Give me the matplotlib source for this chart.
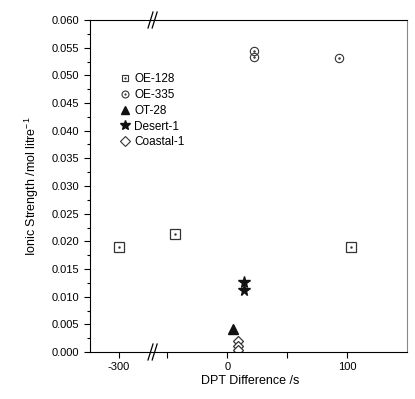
import numpy as np
import matplotlib
matplotlib.use('Agg')
import matplotlib.pyplot as plt
from matplotlib.legend_handler import HandlerTuple
from matplotlib.lines import Line2D

plt.rcParams['font.family'] = ['Liberation Sans', 'DejaVu Sans']
plt.rcParams['axes.unicode_minus'] = False
plt.rcParams['mathtext.default'] = 'regular'

# data
oe128_x = [-300, -44, 103]
oe128_y = [0.0190, 0.0213, 0.0190]
oe335_x = [22, 22, 93]
oe335_y = [0.0544, 0.0534, 0.0532]
ot28_x = [5]
ot28_y = [0.0041]
desert_x = [14, 14]
desert_y = [0.0127, 0.0112]
coastal_x = [9, 9, 9]
coastal_y = [0.0020, 0.0010, 0.0004]

ec = '#333333'
fig = plt.figure(figsize=(4.15, 3.99), dpi=100)
L, R, B, T = 90/415, 407/415, 1-352/399, 1-20/399
brk = 153/415
axL = fig.add_axes([L, B, brk-L, T-B])
axR = fig.add_axes([brk, B, R-brk, T-B], sharey=axL)

for ax in (axL, axR):
    ax.plot(oe128_x, oe128_y, ls='none', marker='s', ms=7, mfc='none', mec=ec, mew=0.9)
    ax.plot(oe128_x, oe128_y, ls='none', marker='.', ms=1.5, color=ec)
    ax.plot(oe335_x, oe335_y, ls='none', marker='o', ms=6, mfc='none', mec=ec, mew=0.8)
    ax.plot(oe335_x, oe335_y, ls='none', marker='.', ms=1.5, color=ec)
    ax.plot(ot28_x, ot28_y, ls='none', marker='^', ms=7.5, color='#111111')
    ax.plot(desert_x, desert_y, ls='none', marker='*', ms=8.5, color='#111111')
    ax.plot(coastal_x, coastal_y, ls='none', marker='D', ms=5.5, mfc='white', mec=ec, mew=0.9)
    ax.set_ylim(0, 0.060)
    ax.tick_params(axis='both', labelsize=8, direction='out', length=4, width=0.8)
    ax.tick_params(which='minor', direction='out', length=2.5, width=0.8)

axL.set_xlim(-324, -272)
axR.set_xlim(-62, 150)
axL.set_xticks([-300])
axR.set_xticks([0, 100])
axR.set_xticks([-50, 50], minor=True)
axR.tick_params(which='minor', length=4)
axL.set_yticks(np.arange(0, 0.0601, 0.005))
axL.set_yticks(np.arange(0, 0.0601, 0.0025), minor=True)
axL.set_yticklabels(['%.3f' % v for v in np.arange(0, 0.0601, 0.005)])
axL.spines['right'].set_visible(False)
axR.spines['left'].set_visible(False)
axR.spines['right'].set_color('#888888')
axR.tick_params(axis='y', which='both', left=False, labelleft=False)

# break marks
for yb in (0, 1):
    for dx in (-0.006, 0.004):
        fig.add_artist(Line2D([brk+dx-0.006, brk+dx+0.006],
                              [B+(T-B)*yb-0.02, B+(T-B)*yb+0.02],
                              color='black', lw=0.9, transform=fig.transFigure))

fig.text(32/415, (B+T)/2, 'Ionic Strength /mol litre$^{-1}$', rotation=90,
         ha='center', va='center', fontsize=9)
fig.text(250/415, 1-381/399, 'DPT Difference /s', ha='center', va='center', fontsize=9)

h1 = (Line2D([], [], ls='none', marker='s', ms=5, mfc='none', mec=ec, mew=0.8),
      Line2D([], [], ls='none', marker='.', ms=1.2, color=ec))
h2 = (Line2D([], [], ls='none', marker='o', ms=5, mfc='none', mec=ec, mew=0.8),
      Line2D([], [], ls='none', marker='.', ms=1.2, color=ec))
h3 = Line2D([], [], ls='none', marker='^', ms=6, color='#111111')
h4 = Line2D([], [], ls='none', marker='*', ms=7, color='#111111')
h5 = Line2D([], [], ls='none', marker='D', ms=5, mfc='white', mec=ec, mew=0.8)
fig.legend([h1, h2, h3, h4, h5], ['OE-128', 'OE-335', 'OT-28', 'Desert-1', 'Coastal-1'],
           handler_map={tuple: HandlerTuple(ndivide=1)},
           loc='upper left', bbox_to_anchor=(114/415, 1-67/399), frameon=False,
           fontsize=8.5, handlelength=0.8, handletextpad=0.4, labelspacing=0.33,
           borderpad=0)

fig.savefig('out.png', dpi=100)
